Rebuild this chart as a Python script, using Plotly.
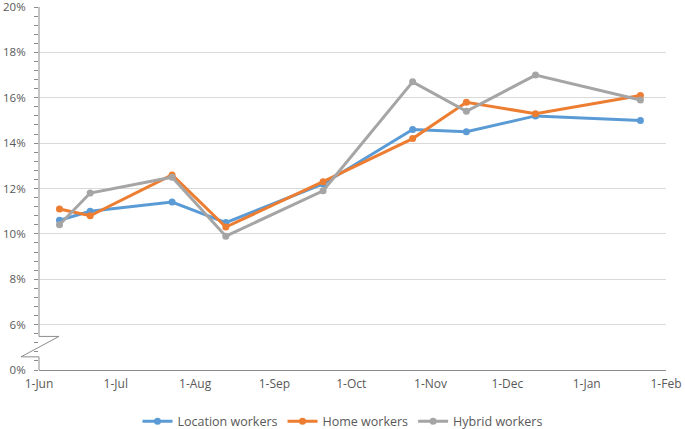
import plotly.graph_objects as go

dates = ["2020-06-09", "2020-06-21", "2020-07-23", "2020-08-13", "2020-09-20",
         "2020-10-25", "2020-11-15", "2020-12-12", "2021-01-22"]
location = [10.6, 11.0, 11.4, 10.5, 12.2, 14.6, 14.5, 15.2, 15.0]
home = [11.1, 10.8, 12.6, 10.3, 12.3, 14.2, 15.8, 15.3, 16.1]
hybrid = [10.4, 11.8, 12.5, 9.9, 11.9, 16.7, 15.4, 17.0, 15.9]

series_names = ["Location workers", "Home workers", "Hybrid workers"]
series_colors = ["#5B9BD5", "#ED7D31", "#A5A5A5"]

# broken axis: the "0%" label sits at 4 on the drawn scale
y_tick_vals = [4, 6, 8, 10, 12, 14, 16, 18, 20]
y_tick_text = ["0%", "6%", "8%", "10%", "12%", "14%", "16%", "18%", "20%"]
x_tick_vals = ["2020-06-01", "2020-07-01", "2020-08-01", "2020-09-01", "2020-10-01",
               "2020-11-01", "2020-12-01", "2021-01-01", "2021-02-01"]
x_tick_text = ["1-Jun", "1-Jul", "1-Aug", "1-Sep", "1-Oct", "1-Nov", "1-Dec", "1-Jan", "1-Feb"]

FONT = "Open Sans"
TXT = "#595959"
AX = "#8c8c8c"

fig = go.Figure()
for name, vals, col in zip(series_names, [location, home, hybrid], series_colors):
    fig.add_trace(go.Scatter(
        x=dates, y=vals, name=name, mode="lines+markers",
        line=dict(color=col, width=3),
        marker=dict(color=col, size=7),
        cliponaxis=False,
    ))

# axis line with break
shapes = [
    dict(type="line", xref="paper", yref="y", x0=0, x1=0, y0=5.48, y1=20,
         line=dict(color=AX, width=1)),
    dict(type="line", xref="paper", yref="y", x0=0, x1=0, y0=4, y1=4.58,
         line=dict(color=AX, width=1)),
    dict(type="path", xref="paper", yref="y", xsizemode="pixel", xanchor=0,
         path="M 0,5.48 L 20,5.48 L -18,4.58 L 0,4.58",
         line=dict(color=AX, width=1)),
]

fig.update_layout(
    width=685, height=429,
    margin=dict(l=39, r=19, t=7, b=59, autoexpand=False),
    paper_bgcolor="white", plot_bgcolor="white",
    font=dict(family=FONT, color=TXT, size=12),
    shapes=shapes,
    showlegend=True,
    legend=dict(orientation="h", xref="container", x=0.5, xanchor="center",
                yref="container", y=0.017, yanchor="middle",
                font=dict(family=FONT, size=12.5, color=TXT), itemwidth=30),
    xaxis=dict(
        range=["2020-06-01", "2021-02-01"], type="date", automargin=False,
        tickvals=x_tick_vals, ticktext=x_tick_text,
        showgrid=False, zeroline=False, showline=True, linecolor=AX, linewidth=1,
        ticks="", tickfont=dict(family=FONT, size=12, color=TXT),
        ticklabeloverflow="allow", ticklabelstandoff=3,
    ),
    yaxis=dict(
        range=[4, 20], tickvals=y_tick_vals, ticktext=y_tick_text, automargin=False,
        showgrid=True, gridcolor="#d9d9d9", gridwidth=1, zeroline=False,
        showline=False, ticks="outside", ticklen=4, tickcolor=AX,
        minor=dict(dtick=0.4, tick0=4, ticks="outside", ticklen=4, tickcolor=AX, showgrid=False),
        tickfont=dict(family=FONT, size=11.5, color=TXT),
        ticklabeloverflow="allow", ticklabelstandoff=6,
    ),
)

fig.write_html("out.html", config={"displayModeBar": False},
               post_script="document.body.style.margin='0';")
